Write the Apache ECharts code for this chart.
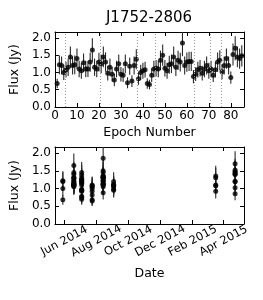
<!DOCTYPE html>
<html><head><meta charset="utf-8">
<script src="https://cdn.jsdelivr.net/npm/echarts@6/dist/echarts.min.js"></script>
<style>html,body{margin:0;padding:0;background:#fff}#c{width:263px;height:300px}</style>
</head><body><div id="c"></div>
<script>
const chartTitle = 'J1752-2806';
const flux = [
  0.68, 1.22, 1.20, 1.00,
  1.08, 1.15, 1.45, 1.20, 1.22, 1.40, 1.10, 1.05, 1.28, 1.10, 1.10, 1.30, 1.65, 1.15, 1.10, 1.30,
  1.25, 1.45, 1.30, 0.98, 1.15, 0.95, 0.78, 1.10, 1.25, 0.95, 0.92, 1.25, 0.70, 1.18, 0.75, 1.20, 1.38,
  0.82, 1.00, 1.05, 1.08, 0.68, 0.65, 0.92, 1.10,
  1.12, 1.10, 1.35, 1.50, 1.12, 1.05, 1.22, 1.25, 1.45, 1.15, 1.35, 1.30, 1.85, 1.20, 1.30, 1.32, 1.32, 0.88,
  0.95, 1.08, 1.12, 0.98, 1.10, 1.20, 1.05,
  1.10, 0.92, 1.08, 1.30, 1.35,
  1.02, 1.20, 1.40, 1.20, 0.85, 1.52, 1.70, 1.45, 1.40, 1.48
];
const fluxErr = [
  0.14, 0.27, 0.26, 0.22,
  0.23, 0.25, 0.30, 0.26, 0.27, 0.29, 0.24, 0.23, 0.27, 0.24, 0.23, 0.28, 0.34, 0.25, 0.24, 0.27,
  0.27, 0.30, 0.28, 0.21, 0.25, 0.21, 0.18, 0.24, 0.27, 0.21, 0.20, 0.27, 0.16, 0.25, 0.17, 0.26, 0.29,
  0.18, 0.22, 0.23, 0.23, 0.15, 0.14, 0.20, 0.24,
  0.24, 0.24, 0.28, 0.31, 0.24, 0.23, 0.26, 0.27, 0.30, 0.25, 0.28, 0.27, 0.38, 0.26, 0.28, 0.28, 0.28, 0.19,
  0.20, 0.23, 0.24, 0.21, 0.24, 0.26, 0.23,
  0.24, 0.20, 0.23, 0.28, 0.29,
  0.22, 0.26, 0.29, 0.26, 0.18, 0.32, 0.35, 0.30, 0.29, 0.31
];
const groupSizes = [4, 16, 17, 8, 18, 7, 5, 10];
const groupDates = ['2014-05-29', '2014-06-19', '2014-07-04', '2014-07-24', '2014-08-14', '2014-09-03', '2015-03-17', '2015-04-23'];
const boundaries = [4.5, 20.5, 37.5, 45.5, 63.5, 70.5, 75.5];
const epochTicks = [0, 10, 20, 30, 40, 50, 60, 70, 80];
const fluxTicks = [0, 0.5, 1.0, 1.5, 2.0];
const dateTicks = ['2014-06-01', '2014-08-01', '2014-10-01', '2014-12-01', '2015-02-01', '2015-04-01'];
const epochRange = [0, 86];
const fluxRange = [0, 2.17];
const dateRange = ['2014-05-14', '2015-05-10'];

const ts = s => Date.parse(s + 'T00:00:00Z');
const MONTHS = ['Jan','Feb','Mar','Apr','May','Jun','Jul','Aug','Sep','Oct','Nov','Dec'];
const pointDates = [];
groupSizes.forEach((n, g) => { for (let k = 0; k < n; k++) pointDates.push(ts(groupDates[g])); });

const epochData = flux.map((f, i) => [i + 1, f, fluxErr[i]]);
const dateData = flux.map((f, i) => [pointDates[i], f, fluxErr[i]]);

const FONT = 'DejaVu Sans';
const tickFont = {fontFamily: FONT, fontSize: 12, color: '#000'};
const dateFont = {fontFamily: FONT, fontSize: 11.5, color: '#000'};
const nameFont = {fontFamily: FONT, fontSize: 12.5, color: '#000'};
const lineStyle = {color: '#000', width: 1};

function errRender(params, api) {
  const x = api.value(0), y = api.value(1), e = api.value(2);
  const lo = Math.max(y - e, fluxRange[0]);
  const hi = Math.min(y + e, fluxRange[1]);
  const p0 = api.coord([x, lo]), p1 = api.coord([x, hi]);
  return {type: 'line', shape: {x1: p0[0], y1: p0[1], x2: p1[0], y2: p1[1]},
          style: {stroke: '#2a2a2a', lineWidth: 1.1}};
}

function mkAxis(opts) {
  return Object.assign({
    type: 'value', splitLine: {show: false},
    axisLine: {show: true, onZero: false, lineStyle: lineStyle},
  }, opts);
}
const tick = vals => ({show: true, inside: true, length: 4, lineStyle: lineStyle, customValues: vals});

const chart = echarts.init(document.getElementById('c'), null, {renderer: 'canvas'});
chart.setOption({
  animation: false,
  backgroundColor: '#fff',
  graphic: [{type: 'text', x: 149, y: 18, style: {text: chartTitle, fill: '#000', font: '15px "DejaVu Sans"', textAlign: 'center', textVerticalAlign: 'middle'}}],
  grid: [
    {left: 54, top: 32, width: 190, height: 75},
    {left: 54, top: 147, width: 190, height: 77}
  ],
  xAxis: [
    mkAxis({gridIndex: 0, position: 'bottom', min: epochRange[0], max: epochRange[1],
      axisTick: tick(epochTicks),
      axisLabel: Object.assign({customValues: epochTicks, margin: 3}, tickFont),
      name: 'Epoch Number', nameLocation: 'middle', nameGap: 19, nameTextStyle: nameFont}),
    mkAxis({gridIndex: 0, position: 'top', min: epochRange[0], max: epochRange[1],
      axisTick: tick(epochTicks), axisLabel: {show: false}}),
    mkAxis({gridIndex: 1, position: 'bottom', min: ts(dateRange[0]), max: ts(dateRange[1]),
      axisTick: tick(dateTicks.map(ts)),
      axisLabel: Object.assign({customValues: dateTicks.map(ts), rotate: 28, align: 'center', verticalAlign: 'middle', margin: 17,
        formatter: v => { const d = new Date(v); return MONTHS[d.getUTCMonth()] + ' ' + d.getUTCFullYear(); }}, dateFont),
      name: 'Date', nameLocation: 'middle', nameGap: 43, nameTextStyle: nameFont}),
    mkAxis({gridIndex: 1, position: 'top', min: ts(dateRange[0]), max: ts(dateRange[1]),
      axisTick: tick(dateTicks.map(ts)), axisLabel: {show: false}})
  ],
  yAxis: [
    mkAxis({gridIndex: 0, position: 'left', min: fluxRange[0], max: fluxRange[1],
      axisTick: tick(fluxTicks),
      axisLabel: Object.assign({customValues: fluxTicks, margin: 4, formatter: v => v.toFixed(1)}, tickFont),
      name: 'Flux (Jy)', nameLocation: 'middle', nameGap: 24, nameTextStyle: nameFont}),
    mkAxis({gridIndex: 0, position: 'right', min: fluxRange[0], max: fluxRange[1],
      axisTick: tick(fluxTicks), axisLabel: {show: false}}),
    mkAxis({gridIndex: 1, position: 'left', min: fluxRange[0], max: fluxRange[1],
      axisTick: tick(fluxTicks),
      axisLabel: Object.assign({customValues: fluxTicks, margin: 4, formatter: v => v.toFixed(1)}, tickFont),
      name: 'Flux (Jy)', nameLocation: 'middle', nameGap: 24, nameTextStyle: nameFont}),
    mkAxis({gridIndex: 1, position: 'right', min: fluxRange[0], max: fluxRange[1],
      axisTick: tick(fluxTicks), axisLabel: {show: false}})
  ],
  series: [
    {type: 'custom', xAxisIndex: 0, yAxisIndex: 0, data: epochData, renderItem: errRender, silent: true,
      markLine: {silent: true, symbol: ['none', 'none'], label: {show: false},
        lineStyle: {color: '#999', width: 1, type: [1, 2]},
        data: boundaries.map(b => ({xAxis: b}))}},
    {type: 'scatter', xAxisIndex: 0, yAxisIndex: 0, data: epochData, symbol: 'circle', symbolSize: 5,
      itemStyle: {color: '#000'}, silent: true},
    {type: 'custom', xAxisIndex: 2, yAxisIndex: 2, data: dateData, renderItem: errRender, silent: true},
    {type: 'scatter', xAxisIndex: 2, yAxisIndex: 2, data: dateData, symbol: 'circle', symbolSize: 5,
      itemStyle: {color: '#000'}, silent: true}
  ]
});
</script></body></html>
